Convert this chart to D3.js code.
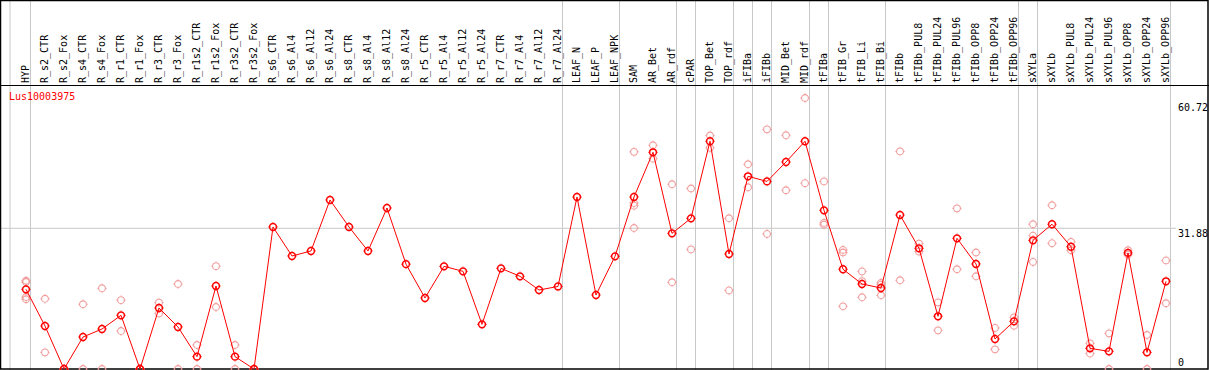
<!DOCTYPE html>
<html>
<head>
<meta charset="utf-8">
<script src="https://cdn.jsdelivr.net/npm/d3@7"></script>
<style>
  body { margin: 0; background: white; }
  svg { display: block; }
</style>
</head>
<body>
<script>
let geneName = 'Lus10003975';

let categories = ['HYP', 'R_s2_CTR', 'R_s2_Fox', 'R_s4_CTR', 'R_s4_Fox', 'R_r1_CTR', 'R_r1_Fox', 'R_r3_CTR', 'R_r3_Fox',
  'R_r1s2_CTR', 'R_r1s2_Fox', 'R_r3s2_CTR', 'R_r3s2_Fox', 'R_s6_CTR', 'R_s6_Al4', 'R_s6_Al12', 'R_s6_Al24',
  'R_s8_CTR', 'R_s8_Al4', 'R_s8_Al12', 'R_s8_Al24', 'R_r5_CTR', 'R_r5_Al4', 'R_r5_Al12', 'R_r5_Al24',
  'R_r7_CTR', 'R_r7_Al4', 'R_r7_Al12', 'R_r7_Al24', 'LEAF_N', 'LEAF_P', 'LEAF_NPK', 'SAM', 'AR_Bet', 'AR_rdf',
  'cPAR', 'TOP_Bet', 'TOP_rdf', 'iFIBa', 'iFIBb', 'MID_Bet', 'MID_rdf', 'tFIBa', 'tFIB_Gr', 'tFIB_Li', 'tFIB_Bi',
  'tFIBb', 'tFIBb_PUL8', 'tFIBb_PUL24', 'tFIBb_PUL96', 'tFIBb_OPP8', 'tFIBb_OPP24', 'tFIBb_OPP96',
  'sXYLa', 'sXYLb', 'sXYLb_PUL8', 'sXYLb_PUL24', 'sXYLb_PUL96', 'sXYLb_OPP8', 'sXYLb_OPP24', 'sXYLb_OPP96'];

// how many columns sit in each group between the grey separators
let groupSizes = [1, 28, 3, 3, 1, 2, 1, 1, 2, 1, 3, 7, 1, 7];

let means = [18.05, 9.74, 0, 7.25, 9.06, 12.16, 0, 13.82, 9.52, 2.8, 18.8, 2.8, 0,
  32.18, 25.6, 26.74, 38.3, 32.18, 26.74, 36.48, 23.75, 16.09, 23.26, 22.13, 10.12,
  22.8, 21.0, 17.9, 18.7, 38.97, 16.77, 25.53, 38.97, 49.1, 30.74, 34.14, 51.6, 26.06,
  43.66, 42.5, 46.9, 51.6, 35.95, 22.6, 19.26, 18.35, 34.9, 27.35, 11.94, 29.6, 23.8,
  6.8, 10.8, 29.15, 32.8, 27.7, 4.68, 4.0, 26.3, 3.77, 19.87];

let replicates = [
  [20.0, 19.7, 16.3, 15.8], [15.9, 3.77], [0, 0], [14.66, 0], [18.28, 0], [15.6, 8.6], [0, 0],
  [15.03, 12.6], [19.26, 0], [5.44, 0], [23.3, 14.05], [5.44, 0], [0, 0],
  [], [], [], [], [], [], [], [], [], [], [], [], [], [], [], [], [], [], [],
  [49.2, 37.6, 37.0, 31.95], [50.7, 47.66], [41.85, 19.64], [40.9, 27.1], [52.9, 50.1],
  [34.14, 17.8], [46.38, 41.17], [54.3, 30.6], [52.95, 40.5], [61.4, 42.1],
  [42.5, 33.1, 32.7], [26.97, 26.4, 14.2], [22.1, 19.9, 16.25], [19.5, 19.1, 16.7],
  [49.3, 20.1], [28.4, 26.6], [15.1, 8.76], [36.4, 22.6], [26.4, 21.0], [9.3, 4.45], [11.7, 9.8],
  [32.8, 30.2, 24.25], [37.1, 28.5], [28.8, 26.9], [5.8, 3.5], [8.08, 0], [26.9, 25.9], [7.7, 0], [24.6, 14.9]];

let yTicks = [0, 31.88, 60.72];

let width = 1209, height = 370;
let font = 'DejaVu Sans Mono, monospace';

let svg = d3.select('body').append('svg').attr('width', width).attr('height', height);

let x = d3.scalePoint().domain(categories).range([26, 1166]);
let y = d3.scaleLinear().domain([0, 60.72]).range([369, 101]);

// grey separators between groups
let sepX = [10];
let idx = 0;
groupSizes.forEach(function(n) {
  idx += n;
  sepX.push(x(categories[idx - 1]) + 4.5);
});
svg.selectAll('line.sep').data(sepX).enter().append('line')
  .attr('class', 'sep')
  .attr('x1', d => d).attr('x2', d => d)
  .attr('y1', 0).attr('y2', height)
  .attr('stroke', '#c8c8c8').attr('stroke-width', 1);

// middle horizontal gridline
svg.append('line')
  .attr('x1', 0).attr('x2', 1176)
  .attr('y1', y(yTicks[1])).attr('y2', y(yTicks[1]))
  .attr('stroke', '#c8c8c8').attr('stroke-width', 1);

// frame and header rule
svg.append('rect').attr('x', 0.5).attr('y', 0.5).attr('width', width - 1.5).attr('height', height - 1.5)
  .attr('fill', 'none').attr('stroke', 'black').attr('stroke-width', 1.5);
svg.append('line').attr('x1', 0).attr('x2', width).attr('y1', 85.5).attr('y2', 85.5)
  .attr('stroke', 'black').attr('stroke-width', 1);

// column labels, rotated
svg.selectAll('text.cat').data(categories).enter().append('text')
  .attr('class', 'cat')
  .attr('transform', d => 'translate(' + (x(d) + 3) + ',83) rotate(-90)')
  .attr('font-family', font).attr('font-size', '10px')
  .attr('fill', 'black')
  .text(d => d);

// y labels on the right
let yLabelY = {0: 366, 31.88: 237, 60.72: 111};
svg.selectAll('text.ylab').data(yTicks).enter().append('text')
  .attr('class', 'ylab')
  .attr('x', 1178).attr('y', d => yLabelY[d])
  .attr('font-family', font).attr('font-size', '10px')
  .attr('fill', 'black')
  .text(d => d === 0 ? '0' : d.toFixed(2));

svg.append('text').attr('x', 9).attr('y', 100)
  .attr('font-family', font).attr('font-size', '10px')
  .attr('fill', 'red').text(geneName);

function marker(g, color, sw) {
  g.append('circle').attr('r', 3.4).attr('fill', 'none').attr('stroke', color).attr('stroke-width', sw);
  [[0, -1], [0, 1], [-1, 0], [1, 0]].forEach(function(v) {
    g.append('line')
      .attr('x1', v[0] * 4).attr('y1', v[1] * 4)
      .attr('x2', v[0] * 4.8).attr('y2', v[1] * 4.8)
      .attr('stroke', color).attr('stroke-width', 0.8);
  });
}

// replicate points
let repPoints = [];
replicates.forEach(function(r, i) {
  r.forEach(function(v) { repPoints.push({cat: categories[i], v: v}); });
});
svg.selectAll('g.rep').data(repPoints).enter().append('g')
  .attr('class', 'rep')
  .attr('transform', d => 'translate(' + x(d.cat) + ',' + y(d.v) + ')')
  .each(function() { marker(d3.select(this), '#f09a9a', 1.1); });

// mean line
let line = d3.line().x((d, i) => x(categories[i])).y(d => y(d));
svg.append('path').datum(means)
  .attr('d', line)
  .attr('fill', 'none').attr('stroke', 'red').attr('stroke-width', 1);

svg.selectAll('g.mean').data(means).enter().append('g')
  .attr('class', 'mean')
  .attr('transform', (d, i) => 'translate(' + x(categories[i]) + ',' + y(d) + ')')
  .each(function() { marker(d3.select(this), 'red', 1.5); });
</script>
</body>
</html>
